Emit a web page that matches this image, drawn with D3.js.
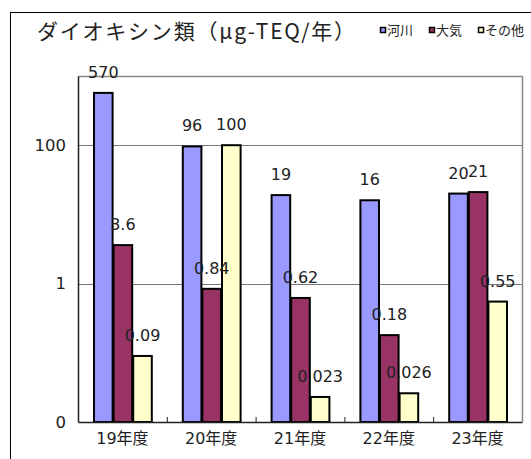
<!DOCTYPE html>
<html><head><meta charset="utf-8">
<script src="https://cdn.jsdelivr.net/npm/d3@7"></script>
<style>
html,body{margin:0;padding:0;background:#fff;overflow:hidden;}
text{font-family:"DejaVu Sans","Noto Sans CJK JP",sans-serif;fill:#222;}
.cjk{font-family:"Noto Sans CJK JP","Noto Sans",sans-serif;}
</style></head>
<body>
<svg id="c" width="531" height="459"></svg>
<script>
const categories = ["19年度","20年度","21年度","22年度","23年度"];
const seriesNames = ["河川","大気","その他"];
const kasen = [570, 96, 19, 16, 20];
const taiki = [3.6, 0.84, 0.62, 0.18, 21];
const sonota = [0.09, 100, 0.023, 0.026, 0.55];
const labelKasen = ["570","96","19","16","20"];
const labelTaiki = ["3.6","0.84","0.62","0.18","21"];
const labelSonota = ["0.09","100","0.023","0.026","0.55"];
const yTickValues = [0.01, 1, 100];
const yTickLabels = ["0","1","100"];
const colors = ["#9999FF","#993366","#FFFFCC"];
const title = "ダイオキシン類（μg-TEQ/年）";

const seriesValues = [kasen, taiki, sonota];
const seriesLabels = [labelKasen, labelTaiki, labelSonota];

const svg = d3.select("#c");
const L = 78, R = 522, T = 76, B = 422;

// outer chart border
svg.append("rect").attr("x",10.5).attr("y",12.5).attr("width",700).attr("height",700)
  .attr("fill","none").attr("stroke","#000").attr("stroke-width",1);

const x0 = d3.scaleBand().domain(categories).range([L, R]);
const x1 = d3.scaleBand().domain(seriesNames).range([15, x0.bandwidth()-15]);
const y = d3.scaleLog().domain([0.01, 1000]).range([B, T]);

// plot border top/right (gray)
svg.append("path").attr("d",`M${L},${T+0.5}H${R+0.5}V${B}`).attr("fill","none").attr("stroke","#888").attr("stroke-width",1.5);

// gridlines
svg.append("g").selectAll("line").data(yTickValues.filter(v=>v>0.01)).join("line")
  .attr("x1",L).attr("x2",R).attr("y1",d=>Math.round(y(d))+0.5).attr("y2",d=>Math.round(y(d))+0.5)
  .attr("stroke","#777").attr("stroke-width",1);

// y axis
const yAxis = d3.axisLeft(y).tickValues(yTickValues).tickFormat((d,i)=>yTickLabels[i]).tickSize(0).tickPadding(12);
const gy = svg.append("g").attr("transform",`translate(${L},0)`).call(yAxis);
gy.select(".domain").attr("stroke","#222").attr("stroke-width",1.5);
gy.selectAll("text").style("font-size","16.5px").style("font-family","'DejaVu Sans'").attr("fill","#222");

// bars
const groups = svg.append("g").selectAll("g").data(categories).join("g")
  .attr("transform",d=>`translate(${x0(d)},0)`);
groups.selectAll("rect").data((c,ci)=>seriesNames.map((s,si)=>({s,si,v:seriesValues[si][ci]}))).join("rect")
  .attr("x",d=>x1(d.s)+1).attr("width",x1.bandwidth()-1)
  .attr("y",d=>y(d.v)).attr("height",d=>B-y(d.v))
  .attr("fill",d=>colors[d.si]).attr("stroke","#000").attr("stroke-width",2);

// data labels
groups.selectAll("text.lbl").data((c,ci)=>seriesNames.map((s,si)=>({s,si,v:seriesValues[si][ci],t:seriesLabels[si][ci]}))).join("text")
  .attr("class","lbl")
  .attr("x",d=>x1(d.s)+x1.bandwidth()/2+0.5).attr("y",d=>y(d.v)-15)
  .attr("text-anchor","middle").style("font-size","16px").style("font-family","'DejaVu Sans'").text(d=>d.t);

// x axis
const xAxis = d3.axisBottom(x0).tickSize(0).tickPadding(11);
const gx = svg.append("g").attr("transform",`translate(0,${B})`).call(xAxis);
gx.select(".domain").attr("stroke","#222").attr("stroke-width",1.5);
gx.selectAll("text").style("font-size","16px").style("font-family","'DejaVu Sans','Noto Sans CJK JP'").attr("fill","#222");
// inner tick marks between categories
svg.append("g").selectAll("line").data(categories.slice(1)).join("line")
  .attr("x1",d=>x0(d)+0.5).attr("x2",d=>x0(d)+0.5).attr("y1",B-5).attr("y2",B)
  .attr("stroke","#222").attr("stroke-width",1);

// title
svg.append("text").attr("class","cjk").attr("x",37).attr("y",39).style("font-size","21px")
  .attr("textLength",318).attr("lengthAdjust","spacing").text(title);

// legend
const lg = svg.append("g").attr("transform","translate(380,0)");
const lgi = lg.selectAll("g").data(seriesNames).join("g")
  .attr("transform",(d,i)=>`translate(${i*49},0)`);
lgi.append("rect").attr("x",0.5).attr("y",27.5).attr("width",5).attr("height",5)
  .attr("fill",(d,i)=>colors[i]).attr("stroke","#000").attr("stroke-width",1.5);
lgi.append("text").attr("class","cjk").attr("x",7).attr("y",35).style("font-size","13px").text(d=>d);
</script>
</body></html>
